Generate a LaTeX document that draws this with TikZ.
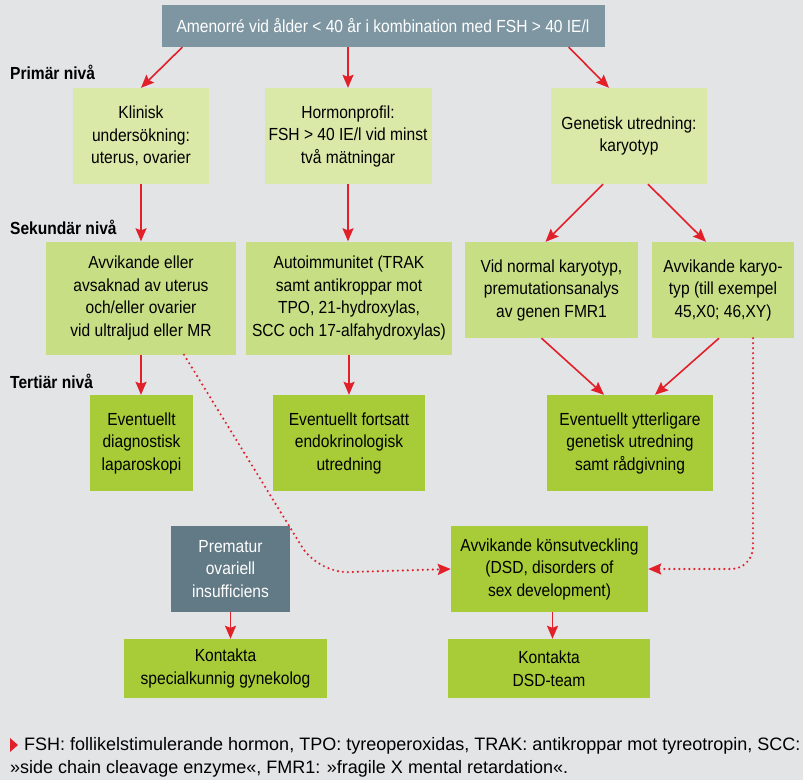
\documentclass[tikz,border=0pt]{standalone}
\usepackage{fontspec}
\setmainfont{Liberation Sans}[FakeStretch=0.89]
\newfontfamily\notefont{Liberation Sans}[FakeStretch=1.0]
\usetikzlibrary{arrows.meta}
\definecolor{BackClr}{RGB}{227,228,230}
\definecolor{TopClr}{RGB}{125,150,162}
\definecolor{SlateClr}{RGB}{98,121,134}
\definecolor{PrimClr}{RGB}{218,232,168}
\definecolor{SekClr}{RGB}{200,222,132}
\definecolor{TertClr}{RGB}{168,204,56}
\definecolor{ArrClr}{RGB}{226,32,42}

\begin{document}
\begin{tikzpicture}[x=1pt,y=-1pt,
  box/.style={inner sep=0pt,align=center,font=\fontsize{17.5}{22.5}\selectfont},
  prim/.style={box,fill=PrimClr},
  sek/.style={box,fill=SekClr},
  tert/.style={box,fill=TertClr},
  slate/.style={box,fill=SlateClr,text=white},
  level/.style={anchor=west,inner sep=0pt,font=\fontsize{17.5}{20}\selectfont\bfseries},
  arr/.style={ArrClr,line width=1.6pt,-{Stealth[length=13pt,width=11pt,inset=2pt]}},
  dotarr/.style={arr,line width=2.4pt,line cap=round,dash pattern=on 0pt off 5pt}]
\fill[BackClr] (0,0) rectangle (803,780);
\useasboundingbox (0,0) rectangle (803,780);

% top
\node[slate,fill=TopClr,minimum width=443,minimum height=42] (top) at (383,26) {Amenorré vid ålder < 40 år i kombination med FSH > 40 IE/l};

\node[level] (lprim) at (10,72) {Primär nivå};
\node[level] (lsek) at (10,227) {Sekundär nivå};
\node[level] (lter) at (10,381) {Tertiär nivå};

% primary
\node[prim,minimum width=136,minimum height=96] (klin) at (141,136) {Klinisk\\undersökning:\\uterus, ovarier};
\node[prim,minimum width=167,minimum height=96] (horm) at (348,136) {Hormonprofil:\\FSH > 40 IE/l vid minst\\två mätningar};
\node[prim,minimum width=156,minimum height=96] (gen) at (629,136) {Genetisk utredning:\\karyotyp};

% secondary
\node[sek,minimum width=190,minimum height=113] (avv) at (141,298) {Avvikande eller\\avsaknad av uterus\\och/eller ovarier\\vid ultraljud eller MR};
\node[sek,minimum width=206,minimum height=113] (auto) at (349,298) {Autoimmunitet (TRAK\\samt antikroppar mot\\TPO, 21-hydroxylas,\\SCC och 17-alfahydroxylas)};
\node[sek,minimum width=173,minimum height=96] (norm) at (551.5,290) {Vid normal karyotyp,\\premutationsanalys\\av genen FMR1};
\node[sek,minimum width=142,minimum height=96] (kary) at (723,290) {Avvikande karyo-\\typ (till exempel\\45,X0; 46,XY)};

% tertiary
\node[tert,minimum width=103,minimum height=96] (diag) at (141.5,443) {Eventuellt\\diagnostisk\\laparoskopi};
\node[tert,minimum width=152,minimum height=96] (fort) at (349,443) {Eventuellt fortsatt\\endokrinologisk\\utredning};
\node[tert,minimum width=166,minimum height=96] (ytt) at (630,443) {Eventuellt ytterligare\\genetisk utredning\\samt rådgivning};

\node[slate,minimum width=119,minimum height=86] (prem) at (230.5,569) {Prematur\\ovariell\\insufficiens};
\node[tert,minimum width=197,minimum height=86] (dsd) at (549.5,569) {Avvikande könsutveckling\\(DSD, disorders of\\sex development)};
\node[tert,minimum width=203,minimum height=59] (kspec) at (225.5,668.5) {Kontakta\\specialkunnig gynekolog};
\node[tert,minimum width=202,minimum height=59] (kdsd) at (549,668.5) {Kontakta\\DSD-team};

% arrows
\draw[arr] ([xshift=21]top.south west) -- (klin.north);
\draw[arr] (top.south -| horm.north) -- (horm.north);
\draw[arr] ([xshift=-36]top.south east) -- ([xshift=-20]gen.north);
\draw[arr] (klin.south) -- (avv.north);
\draw[arr] (horm.south) -- (horm.south |- auto.north);
\draw[arr] ([xshift=-26]gen.south) -- ([xshift=-6]norm.north);
\draw[arr] ([xshift=19]gen.south) -- ([xshift=-17]kary.north);
\draw[arr] (avv.south) -- (avv.south |- diag.north);
\draw[arr] (auto.south) -- (fort.north);
\draw[arr] ([xshift=-10]norm.south) -- ([xshift=-26]ytt.north);
\draw[arr] ([xshift=-4]kary.south) -- ([xshift=25]ytt.north);
\draw[arr] (prem.south) -- (prem.south |- kspec.north);
\draw[arr] ([xshift=3]dsd.south) -- ([xshift=3]dsd.south |- kdsd.north);

% dotted
\draw[dotarr,rounded corners=30pt] ([xshift=43]avv.south) -- (318,573) -- (dsd.west);
\draw[dotarr,rounded corners=22pt] ([xshift=30]kary.south) |- (dsd.east);

% note
\fill[ArrClr] (10,738) -- (18,745) -- (10,752) -- cycle;
\node[anchor=west,inner sep=0pt,align=left,font=\notefont\fontsize{18}{23}\selectfont] (note) at (10,757)
  {\hspace*{14pt}FSH: follikelstimulerande hormon, TPO: tyreoperoxidas, TRAK: antikroppar mot tyreotropin, SCC:\\»side chain cleavage enzyme«, FMR1: »fragile X mental retardation«.};
\end{tikzpicture}
\end{document}
